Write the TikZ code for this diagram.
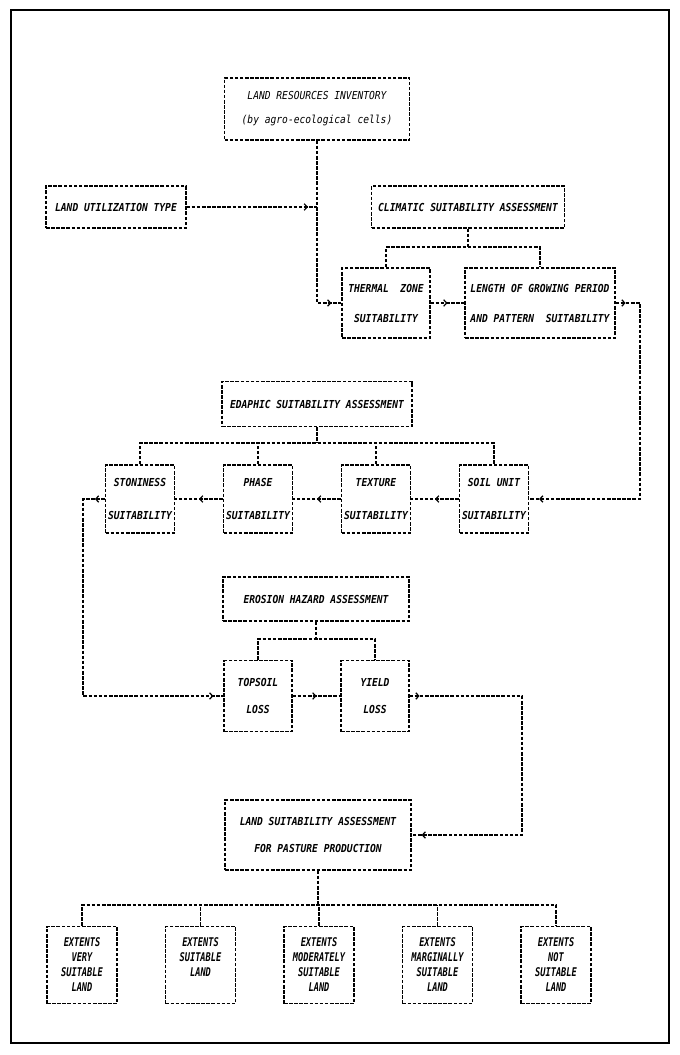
\documentclass[tikz,border=0pt]{standalone}
\usepackage{fontspec}
\newfontfamily\dmfont[FakeStretch=0.875]{DejaVu Sans Mono}
\newfontfamily\dmnarrow[FakeStretch=0.72]{DejaVu Sans Mono}
\usetikzlibrary{arrows.meta,decorations.markings}
\begin{document}
\begin{tikzpicture}[x=1pt,y=-1pt,
  dsh/.style={line width=1.2pt,dash pattern=on 3.6pt off 1.5pt},
  conn/.style={draw,dsh},
  box/.style={draw,dsh,inner sep=0pt,align=center,font=\dmfont\bfseries\itshape\fontsize{11}{#1}\selectfont},
  lbox/.style={draw,dsh,inner sep=0pt,align=center,font=\dmfont\itshape\fontsize{11}{#1}\selectfont},
  ebox/.style={draw,dsh,inner sep=0pt,align=center,minimum width=70pt,minimum height=77pt,font=\dmnarrow\bfseries\itshape\fontsize{12}{15}\selectfont},
  tipat/.style={postaction={decorate,decoration={markings,mark=at position #1 with {\arrow{Straight Barb[length=3pt,width=6.5pt]}}}}}
]
\useasboundingbox (0,0) rectangle (680,1055);
\draw[line width=1.6pt] (11,10) rectangle (669,1043);

% top part
\node[lbox=24,minimum width=185pt,minimum height=62pt] (lri) at (317,109) {LAND RESOURCES INVENTORY\\(by agro-ecological cells)};
\node[box=14,minimum width=140pt,minimum height=42pt] (lut) at (116,207) {LAND UTILIZATION TYPE};
\node[box=14,minimum width=193pt,minimum height=42pt] (clim) at (468,207) {CLIMATIC SUITABILITY ASSESSMENT};
\node[box=30,minimum width=88pt,minimum height=70pt] (therm) at (386,303) {THERMAL\ \ ZONE\\SUITABILITY};
\node[box=30,minimum width=150pt,minimum height=70pt] (lgp) at (540,303) {LENGTH OF GROWING PERIOD\\AND PATTERN\ \ SUITABILITY};

% edaphic part
\node[box=14,minimum width=190pt,minimum height=45pt] (eda) at (317,404) {EDAPHIC SUITABILITY ASSESSMENT};
\node[box=33,minimum width=69pt,minimum height=68pt] (ston) at (140,499) {STONINESS\\SUITABILITY};
\node[box=33,minimum width=69pt,minimum height=68pt] (phase) at (258,499) {PHASE\\SUITABILITY};
\node[box=33,minimum width=69pt,minimum height=68pt] (tex) at (376,499) {TEXTURE\\SUITABILITY};
\node[box=33,minimum width=69pt,minimum height=68pt] (soil) at (494,499) {SOIL UNIT\\SUITABILITY};

% erosion part
\node[box=14,minimum width=186pt,minimum height=44pt] (ero) at (316,599) {EROSION HAZARD ASSESSMENT};
\node[box=27,minimum width=68pt,minimum height=71pt] (top) at (258,696) {TOPSOIL\\LOSS};
\node[box=27,minimum width=68pt,minimum height=71pt] (yield) at (375,696) {YIELD\\LOSS};

% final part
\node[box=27,minimum width=186pt,minimum height=70pt] (lsa) at (318,835) {LAND SUITABILITY ASSESSMENT\\FOR PASTURE PRODUCTION};
\node[ebox] (e1) at (82,965) {EXTENTS\\VERY\\SUITABLE\\LAND};
\node[ebox] (e2) at (200.5,965) {EXTENTS\\SUITABLE\\LAND\\\mbox{}};
\node[ebox] (e3) at (319,965) {EXTENTS\\MODERATELY\\SUITABLE\\LAND};
\node[ebox] (e4) at (437.5,965) {EXTENTS\\MARGINALLY\\SUITABLE\\LAND};
\node[ebox] (e5) at (556,965) {EXTENTS\\NOT\\SUITABLE\\LAND};

% coordinates
\coordinate (b1) at (468,247);
\coordinate (r1) at (640,303);
\coordinate (b2) at (317,443);
\coordinate (l1) at (83,499);
\coordinate (b3) at (317,639);
\coordinate (r2) at (522,696);
\coordinate (b4) at (319,905);

% connectors top
\draw[conn,tipat=-9pt] (lut.east) -- (lut.east -| lri.south);
\draw[conn,tipat=-10pt] (lri.south) |- (therm.west);
\draw[conn] (clim.south) -- (clim.south |- b1);
\draw[conn] (therm.north) |- (b1) -| (lgp.north);
\draw[conn,tipat=0.5] (therm.east) -- (lgp.west);
\draw[conn,tipat=10pt,tipat=-10pt] (lgp.east) -- (lgp.east -| r1) |- (soil.east);

% connectors edaphic
\draw[conn] (eda.south) -- (eda.south |- b2);
\draw[conn] (ston.north) |- (b2) -| (soil.north);
\draw[conn] (phase.north) -- (phase.north |- b2);
\draw[conn] (tex.north) -- (tex.north |- b2);
\draw[conn,tipat=0.5] (soil.west) -- (tex.east);
\draw[conn,tipat=0.5] (tex.west) -- (phase.east);
\draw[conn,tipat=0.5] (phase.west) -- (ston.east);
\draw[conn,tipat=10pt,tipat=-10pt] (ston.west) -- (l1) |- (top.west);

% connectors erosion
\draw[conn] (ero.south) -- (ero.south |- b3);
\draw[conn] (top.north) |- (b3) -| (yield.north);
\draw[conn,tipat=0.5] (top.east) -- (yield.west);
\draw[conn,tipat=10pt,tipat=-10pt] (yield.east) -- (r2) |- (lsa.east);

% connectors final
\draw[conn] (lsa.south) -- (lsa.south |- b4);
\draw[conn] (e1.north) |- (b4) -| (e5.north);
\draw[conn] (e2.north) -- (e2.north |- b4);
\draw[conn] (e3.north) -- (e3.north |- b4);
\draw[conn] (e4.north) -- (e4.north |- b4);
\end{tikzpicture}
\end{document}
